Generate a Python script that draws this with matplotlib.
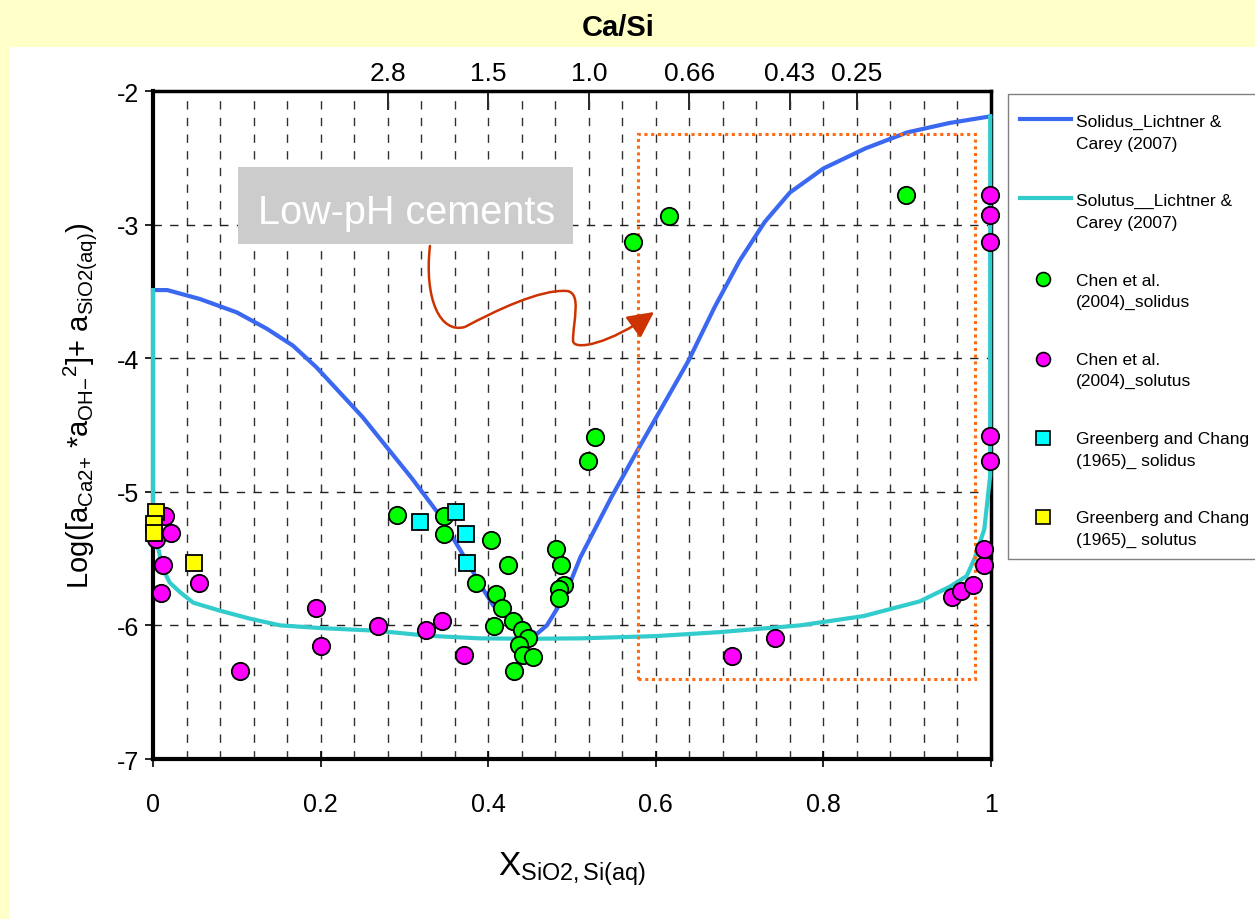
import numpy as np
import matplotlib
matplotlib.use('Agg')
import matplotlib.pyplot as plt
from matplotlib.patches import Rectangle, FancyArrowPatch
from matplotlib.path import Path
from matplotlib.lines import Line2D

plt.rcParams['font.family'] = ['Liberation Sans', 'DejaVu Sans']
plt.rcParams['mathtext.fontset'] = 'custom'
plt.rcParams['mathtext.rm'] = 'Liberation Sans'
plt.rcParams['mathtext.it'] = 'Liberation Sans:italic'
plt.rcParams['mathtext.bf'] = 'Liberation Sans:bold'
plt.rcParams['mathtext.default'] = 'regular'

# Lichtner & Carey (2007) curves
solidus_x = [0, 0.017, 0.056, 0.1, 0.136, 0.167, 0.195, 0.25, 0.309, 0.339, 0.368, 0.394,
             0.406, 0.43, 0.458, 0.47, 0.482, 0.498, 0.51, 0.547, 0.579, 0.639, 0.67,
             0.70, 0.73, 0.76, 0.80, 0.85, 0.90, 0.95, 0.999]
solidus_y = [-3.49, -3.49, -3.557, -3.657, -3.78, -3.906, -4.068, -4.44, -4.9, -5.15, -5.45, -5.73,
             -5.85, -5.98, -6.064, -6.0, -5.877, -5.677, -5.49, -5.04, -4.68, -4.019, -3.62,
             -3.27, -2.98, -2.76, -2.58, -2.43, -2.31, -2.24, -2.19]

solutus_x = [0, 0, 0.0045, 0.012, 0.020, 0.032, 0.048, 0.08, 0.116, 0.152, 0.2, 0.267, 0.327,
             0.39, 0.45, 0.51, 0.6, 0.677, 0.772, 0.848, 0.915, 0.951, 0.971, 0.981, 0.992,
             0.999, 0.999]
solutus_y = [-3.49, -5.08, -5.38, -5.58, -5.68, -5.75, -5.83, -5.89, -5.95, -6.0, -6.02, -6.04, -6.077,
             -6.097, -6.10, -6.097, -6.08, -6.05, -6.0, -5.93, -5.82, -5.71, -5.63, -5.49, -5.28,
             -4.88, -2.19]

# Chen et al. (2004)
chen_sol_x = [0.291, 0.347, 0.347, 0.403, 0.424, 0.386, 0.409, 0.416, 0.407, 0.429, 0.440, 0.448,
              0.437, 0.442, 0.453, 0.431, 0.481, 0.487, 0.491, 0.485, 0.485, 0.519, 0.528, 0.573,
              0.616, 0.899]
chen_sol_y = [-5.174, -5.183, -5.316, -5.358, -5.548, -5.683, -5.763, -5.872, -6.007, -5.965, -6.032,
              -6.097, -6.147, -6.222, -6.237, -6.341, -5.428, -5.548, -5.698, -5.728, -5.793, -4.767,
              -4.592, -3.133, -2.933, -2.78]

chen_solu_x = [0.003, 0.014, 0.021, 0.012, 0.010, 0.055, 0.104, 0.195, 0.201, 0.268, 0.326, 0.345,
               0.371, 0.691, 0.742, 0.953, 0.964, 0.979, 0.992, 0.992, 0.999, 0.999, 0.999, 0.999,
               0.999]
chen_solu_y = [-5.353, -5.178, -5.311, -5.548, -5.760, -5.683, -6.344, -5.872, -6.152, -6.002, -6.032,
               -5.965, -6.222, -6.229, -6.097, -5.79, -5.74, -5.698, -5.548, -5.428, -4.767, -4.585,
               -3.13, -2.93, -2.78]

# Greenberg and Chang (1965)
gc_sol_x = [0.319, 0.362, 0.373, 0.375]
gc_sol_y = [-5.224, -5.154, -5.318, -5.533]
gc_solu_x = [0.003, 0.001, 0.001, 0.049]
gc_solu_y = [-5.153, -5.24, -5.31, -5.535]

x_ticks = [0, 0.2, 0.4, 0.6, 0.8, 1.0]
x_tick_labels = ['0', '0.2', '0.4', '0.6', '0.8', '1']
y_ticks = [-7, -6, -5, -4, -3, -2]
y_tick_labels = ['-7', '-6', '-5', '-4', '-3', '-2']
top_ticks = [0.28, 0.40, 0.52, 0.64, 0.76, 0.84]
top_labels = ['2.8', '1.5', '1.0', '0.66', '0.43', '0.25']

leg_labels = ['Solidus_Lichtner &\nCarey (2007)', 'Solutus__Lichtner &\nCarey (2007)',
              'Chen et al.\n(2004)_solidus', 'Chen et al.\n(2004)_solutus',
              'Greenberg and Chang\n(1965)_ solidus', 'Greenberg and Chang\n(1965)_ solutus']

W, H = 1255, 920


def px(x, y):
    return (x / W, 1 - y / H)


fig = plt.figure(figsize=(12.55, 9.2), dpi=100, facecolor='#FFFFC8')
fig.patches.append(Rectangle(px(10, 920), 1, 1 - 48 / H, transform=fig.transFigure,
                             facecolor='white', edgecolor='none', zorder=-10))
ax = fig.add_axes([153 / W, 1 - 760 / H, 838 / W, 668 / H])
ax.set_xlim(0, 1)
ax.set_ylim(-7, -2)

# grid
ax.set_xticks(x_ticks)
ax.set_xticklabels(x_tick_labels)
ax.set_xticks(np.arange(0.04, 1.0, 0.04), minor=True)
ax.set_yticks(y_ticks)
ax.set_yticklabels(y_tick_labels)
ax.grid(True, which='both', axis='x', color='#303030', lw=1, dashes=(6, 6))
ax.grid(True, which='major', axis='y', color='#202020', lw=1, dashes=(6, 6))
ax.set_axisbelow(True)
ax.tick_params(axis='x', which='major', direction='inout', length=12, width=1.2,
               pad=18, labelsize=18)
ax.tick_params(axis='x', which='minor', length=0)
ax.tick_params(axis='y', direction='out', length=6, width=1.2, pad=4, labelsize=18)
ax.spines['left'].set_linewidth(3)
ax.spines['bottom'].set_linewidth(3)
ax.spines['top'].set_linewidth(2.5)
ax.spines['right'].set_linewidth(2.5)

top = ax.secondary_xaxis('top')
top.set_xticks(top_ticks)
top.set_xticklabels(top_labels)
top.tick_params(direction='in', length=14, width=1.2, pad=4, labelsize=19)

# curves
ax.plot(solidus_x, solidus_y, color='#3A68F0', lw=3, zorder=3, clip_on=False)
ax.plot(solutus_x, solutus_y, color='#33CCCC', lw=3, zorder=3, clip_on=False)

# data points
mk = dict(linestyle='none', markeredgecolor='black', markeredgewidth=1.3, zorder=5, clip_on=False)
ax.plot(chen_sol_x, chen_sol_y, marker='o', markersize=12.5, markerfacecolor='#00FF00', **mk)
ax.plot(chen_solu_x, chen_solu_y, marker='o', markersize=12.5, markerfacecolor='#FF00FF', **mk)
ax.plot(gc_sol_x, gc_sol_y, marker='s', markersize=11.5, markerfacecolor='#00FFFF', **mk)
ax.plot(gc_solu_x, gc_solu_y, marker='s', markersize=11.5, markerfacecolor='#FFFF00', **mk)

# dotted region
ax.add_patch(Rectangle((0.579, -6.401), 0.981 - 0.579, 6.401 - 2.322, fill=False,
                       edgecolor='#FF6A13', lw=2.2, linestyle=(0, (1, 1.2)), zorder=4))

# Low-pH cements label
ax.add_patch(Rectangle((0.1014, -3.145), 0.501 - 0.1014, 3.145 - 2.569, facecolor='#CCCCCC',
                       edgecolor='none', zorder=4))
ax.text(0.302, -2.988, 'Low-pH cements', color='white', fontsize=28.5, ha='center',
        va='baseline', zorder=5)

verts = [(0.3305, -3.160), (0.3234, -3.557), (0.3425, -3.819), (0.3723, -3.766),
         (0.4081, -3.647), (0.4618, -3.482), (0.4940, -3.497),
         (0.5119, -3.512), (0.5012, -3.722), (0.5012, -3.871),
         (0.5024, -3.946), (0.5453, -3.894), (0.5979, -3.654)]
codes = [Path.MOVETO] + [Path.CURVE4] * 12
arrow = FancyArrowPatch(path=Path(verts, codes), arrowstyle='-|>,head_length=0.8,head_width=0.4',
                        mutation_scale=20, color='#CC3300', lw=1.8, zorder=6)
ax.add_patch(arrow)

# labels
ax.set_xlabel(r'X$_{\mathrm{SiO2,Si(aq)}}$', fontsize=24)
ax.xaxis.set_label_coords(0.5, -0.135)
ax.set_ylabel(r'Log([a$_{\mathrm{Ca2{+}}}$ *a$_{\mathrm{OH{-}}}$$^{2}$]+ a$_{\mathrm{SiO2(aq)}}$)',
              fontsize=21)
ax.yaxis.set_label_coords(-0.065, 0.53)
fig.text(*px(618, 28), 'Ca/Si', fontsize=21, fontweight='bold', ha='center', va='center')

# legend drawn by hand to keep the handles on the first text line
fig.patches.append(Rectangle(px(1008, 560), 0.3, (560 - 95) / H, transform=fig.transFigure,
                             facecolor='white', edgecolor='#808080', lw=1))
handles = [('line', '#3A68F0'), ('line', '#33CCCC'), ('o', '#00FF00'), ('o', '#FF00FF'),
           ('s', '#00FFFF'), ('s', '#FFFF00')]
for i, (lab, (kind, col)) in enumerate(zip(leg_labels, handles)):
    yc = 120 + 79.2 * i
    if kind == 'line':
        fig.add_artist(Line2D([1020 / W, 1071 / W], [1 - yc / H] * 2, color=col, lw=3,
                              transform=fig.transFigure))
    else:
        fig.add_artist(Line2D([1043 / W], [1 - (yc + 2) / H], marker=kind, markersize=10,
                              markerfacecolor=col, markeredgecolor='black', markeredgewidth=1.2,
                              linestyle='none', transform=fig.transFigure))
    fig.text(*px(1076, yc + 13.5), lab, fontsize=12.5, ha='left', va='center', linespacing=1.55)

fig.savefig('out.png', dpi=100, facecolor=fig.get_facecolor())
